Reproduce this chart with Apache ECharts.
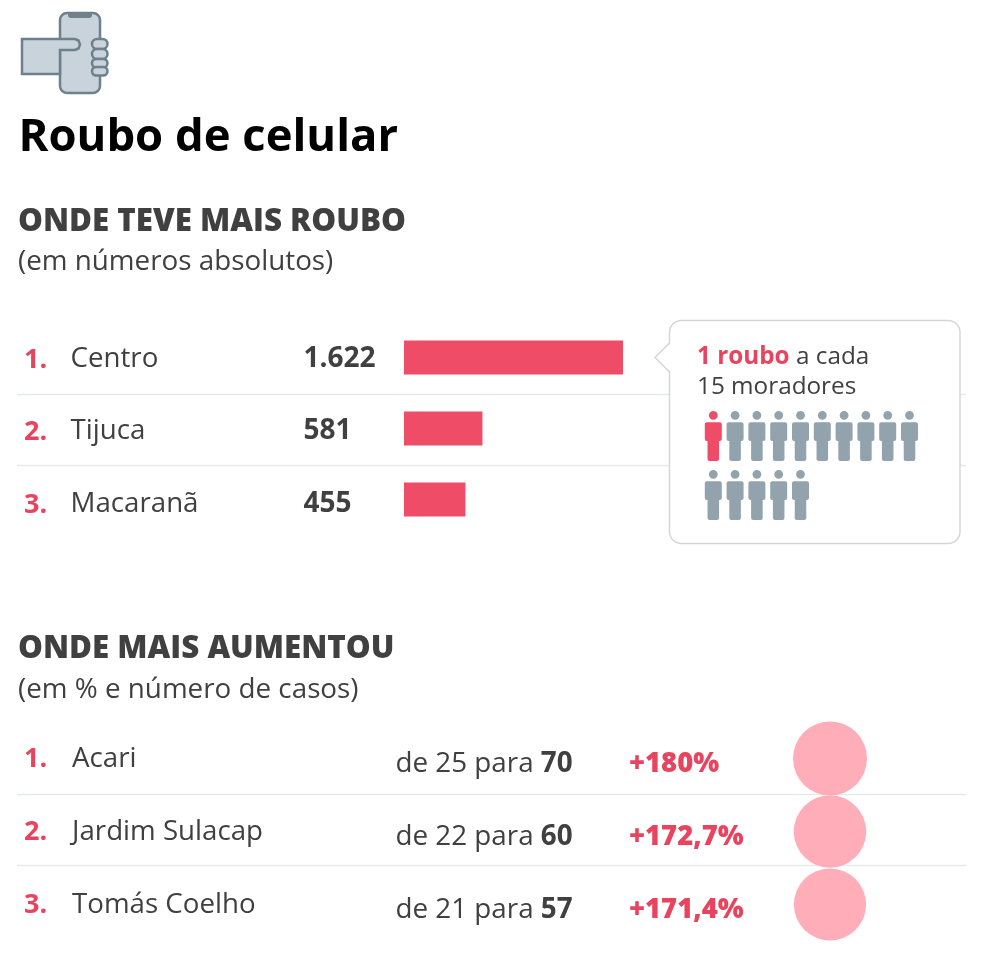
<!DOCTYPE html>
<html>
<head>
<meta charset="utf-8">
<script src="https://cdn.jsdelivr.net/npm/echarts@6/dist/echarts.min.js"></script>
<style>
html, body { margin: 0; background: #fff; }
#chart { width: 984px; height: 977px; }
</style>
</head>
<body>
<div id="chart"></div>
<script>
var rouboNames = ['Centro', 'Tijuca', 'Macaranã'];
var rouboValues = [1622, 581, 455];
var aumentoNames = ['Acari', 'Jardim Sulacap', 'Tomás Coelho'];
var casosDe = [25, 22, 21];
var casosPara = [70, 60, 57];
var aumentoPct = [180, 172.7, 171.4];
var moradores = 15;
var moradoresPorLinha = 10;

var RED = '#ef4d67', RED_TEXT = '#e9445f', TEXT = '#404040', GREY = '#93a3ae', LINE = '#e6e9ea';
var FONT = '"Open Sans"';
var personPath = 'path://M25 0a13 13 0 1 1 0 26a13 13 0 1 1 0-26z' +
    'M6 34h38a6 6 0 0 1 6 6v44a6 6 0 0 1-6 6h-2v54a6 6 0 0 1-6 6h-22a6 6 0 0 1-6-6v-54h-2a6 6 0 0 1-6-6v-44a6 6 0 0 1 6-6z';

function txt(x, y, text, size, color, weight, extra) {
    var style = { x: x, y: y, text: text, fontFamily: FONT, fontSize: size, fill: color,
        fontWeight: weight || 400, verticalAlign: 'middle', align: 'left' };
    if (extra) { style.rich = extra; }
    return { type: 'text', z: 5, style: style };
}
function line(x1, x2, y) {
    return { type: 'line', z: 0, shape: { x1: x1, y1: y, x2: x2, y2: y }, style: { stroke: LINE, lineWidth: 1.5 } };
}
function milhar(v) { return String(v).replace(/\B(?=(\d{3})+$)/g, '.'); }

var graphics = [];

// icone
var iconStyle = { fill: '#c8d3db', stroke: '#6d808b', lineWidth: 2.5 };
graphics.push({ type: 'rect', shape: { x: 60, y: 13, width: 40, height: 80, r: 7 }, style: iconStyle });
graphics.push({ type: 'rect', shape: { x: 68, y: 13, width: 24, height: 5, r: [0, 0, 3, 3] }, style: { fill: '#6d808b' } });
[[39, 10], [49, 10], [59, 8.5], [67, 8.5]].forEach(function (f) {
    graphics.push({ type: 'rect', shape: { x: 92, y: f[0], width: 15.5, height: f[1], r: 5 }, style: iconStyle });
});
graphics.push({ type: 'polygon', shape: { points: [[22, 39], [75, 39], [78.5, 40.5], [80, 44.5], [78.5, 48.5], [75, 50], [60, 50], [60, 74], [22, 74]] }, style: iconStyle });

// titulos
graphics.push(txt(18.5, 138, 'Roubo de celular', 45.4, '#000', 700));
graphics.push(txt(18, 222, 'ONDE TEVE MAIS ROUBO', 31.3, TEXT, 800));
graphics.push(txt(18, 262, '(em números absolutos)', 27.8, TEXT));
graphics.push(txt(18, 649, 'ONDE MAIS AUMENTOU', 31.3, TEXT, 800));
graphics.push(txt(18, 690, '(em % e número de casos)', 27.8, TEXT));

// primeira tabela
graphics.push(line(17, 966, 394.5), line(17, 966, 465.5));
rouboNames.forEach(function (name, i) {
    var y = 360 + i * 72.5;
    graphics.push(txt(24, y, (i + 1) + '.', 27, RED_TEXT, 700));
    graphics.push(txt(70.5, y - 1, name, 27.7, TEXT));
    graphics.push(txt(303.5, y - 1, milhar(rouboValues[i]), 28, TEXT, 700));
});

// balao
graphics.push({ type: 'rect', z: 1, shape: { x: 669.5, y: 320.5, width: 290.5, height: 223, r: 12 }, style: { fill: '#fff', stroke: '#d6d6d6', lineWidth: 1.5 } });
graphics.push({ type: 'polygon', z: 2, shape: { points: [[671, 343], [655, 357.5], [671, 372]] }, style: { fill: '#fff' } });
graphics.push({ type: 'polyline', z: 3, shape: { points: [[669.5, 343], [655, 357.5], [669.5, 372]] }, style: { fill: 'none', stroke: '#d6d6d6', lineWidth: 1.5 } });
graphics.push(txt(697, 357, '{r|1 roubo}{t| a cada}', 24.3, TEXT, 400, {
    r: { fontFamily: FONT, fontSize: 24.3, fontWeight: 700, fill: RED_TEXT },
    t: { fontFamily: FONT, fontSize: 24.3, fill: TEXT }
}));
graphics.push(txt(697, 387, '15 moradores', 24.3, TEXT));

// segunda tabela
graphics.push(line(17, 966, 794.5), line(17, 966, 865.5));
aumentoNames.forEach(function (name, i) {
    var y = 759.5 + i * 73;
    graphics.push(txt(24, y, (i + 1) + '.', 27, RED_TEXT, 700));
    graphics.push(txt(72, y, name, 27.7, TEXT));
    graphics.push(txt(395.5, y + 4.5, '{a|de ' + casosDe[i] + ' para }{b|' + casosPara[i] + '}', 27.8, TEXT, 400, {
        a: { fontFamily: FONT, fontSize: 27.8, fill: TEXT },
        b: { fontFamily: FONT, fontSize: 27.8, fontWeight: 700, fill: TEXT }
    }));
    graphics.push(txt(629, y + 4.5, '+' + String(aumentoPct[i]).replace('.', ',') + '%', 27.4, RED_TEXT, 800));
});

var peopleData = [];
for (var p = 0; p < moradores; p++) {
    peopleData.push({
        value: [p % moradoresPorLinha, Math.floor(p / moradoresPorLinha)],
        itemStyle: { color: p === 0 ? RED : GREY }
    });
}

var myChart = echarts.init(document.getElementById('chart'), null, { renderer: 'canvas' });
myChart.setOption({
    backgroundColor: '#fff',
    animation: false,
    graphic: graphics,
    grid: [
        { left: 404, top: 322, width: 219, height: 213 },
        { left: 793, top: 722, width: 74, height: 219 },
        { left: 713.3, top: 436, width: 196.2, height: 59 }
    ],
    xAxis: [
        { gridIndex: 0, type: 'value', min: 0, max: 1622, show: false },
        { gridIndex: 1, type: 'value', min: -1, max: 1, show: false },
        { gridIndex: 2, type: 'value', min: 0, max: moradoresPorLinha - 1, show: false }
    ],
    yAxis: [
        { gridIndex: 0, type: 'category', inverse: true, data: rouboNames, show: false },
        { gridIndex: 1, type: 'category', inverse: true, data: aumentoNames, show: false },
        { gridIndex: 2, type: 'value', inverse: true, min: 0, max: 1, show: false }
    ],
    series: [
        {
            type: 'bar', xAxisIndex: 0, yAxisIndex: 0, barWidth: 34,
            itemStyle: { color: RED }, data: rouboValues
        },
        {
            type: 'scatter', xAxisIndex: 1, yAxisIndex: 1,
            symbolSize: function (d) { return Math.sqrt(d[2] * 30.4); },
            itemStyle: { color: '#ffadb9', opacity: 1 },
            data: aumentoPct.map(function (v, i) { return [0, i, v]; })
        },
        {
            type: 'scatter', xAxisIndex: 2, yAxisIndex: 2, symbol: personPath, symbolSize: [17, 50],
            itemStyle: { opacity: 1 }, data: peopleData
        }
    ]
});
</script>
</body>
</html>
